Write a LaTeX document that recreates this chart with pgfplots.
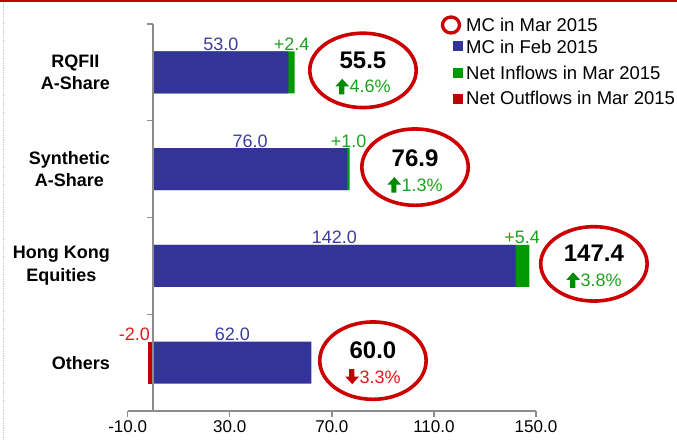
\documentclass[border=0pt]{standalone}
\usepackage{pgfplots}
\pgfplotsset{compat=1.18}
\usepackage{fontspec}
\setmainfont{Liberation Sans}
\definecolor{barblue}{HTML}{333399}
\definecolor{bargreen}{HTML}{009900}
\definecolor{barred}{HTML}{C00000}
\definecolor{txtblue}{HTML}{3C3C9E}
\definecolor{txtgreen}{HTML}{1CA31C}
\definecolor{arrgreen}{HTML}{008A00}
\definecolor{txtred}{HTML}{E01818}
\definecolor{ringred}{HTML}{CC0000}
\definecolor{axgray}{HTML}{8C8C8C}
\newcommand{\uparr}[1]{\tikz[baseline=0pt]\fill[#1] (4.4pt,-1.5pt) -- (9.6pt,-1.5pt) -- (9.6pt,6.5pt) -- (14.3pt,6.5pt) -- (7.4pt,14pt) -- (0.5pt,6.5pt) -- (4.4pt,6.5pt) -- cycle;}
\newcommand{\downarr}[1]{\tikz[baseline=0pt]\fill[#1] (4.4pt,14pt) -- (9.6pt,14pt) -- (9.6pt,6.5pt) -- (14.3pt,6.5pt) -- (7.4pt,-1pt) -- (0.5pt,6.5pt) -- (4.4pt,6.5pt) -- cycle;}
\newcommand{\lblfont}{\fontsize{18}{21}\selectfont}
\newcommand{\bigfont}{\fontsize{24}{28}\selectfont\bfseries}
\begin{document}
\begin{tikzpicture}
\useasboundingbox (0,0) rectangle (677pt,440pt);
\draw[barred, line width=2pt] (0,439pt) -- (677pt,439pt);
\draw[gray!45, densely dotted, line width=0.8pt] (3pt,0) -- (3pt,438pt);
\begin{axis}[
  at={(127.7pt,29pt)}, anchor=south west,
  width=408.3pt, height=387pt, scale only axis,
  xmin=-10, xmax=150, ymin=-0.5, ymax=3.5,
  clip=false,
  axis x line*=bottom, axis y line*=left,
  x axis line style={-, draw=axgray, line width=1.5pt},
  y axis line style={draw=none},
  xtick={-10,30,70,110,150},
  xticklabels={-10.0,30.0,70.0,110.0,150.0},
  xticklabel style={font=\fontsize{17}{20}\selectfont},
  x tick style={draw=axgray, line width=1.3pt},
  major tick length=6pt,
  tick align=outside,
  ytick={0,1,2,3},
  yticklabels={Others,{Hong Kong\\Equities},{Synthetic\\A-Share},{RQFII\\A-Share}},
  yticklabel style={font=\fontsize{18}{22.5}\selectfont\bfseries, align=center, anchor=east, inner sep=0pt, xshift=-11.7pt},
  y tick style={draw=none},
  xbar, bar width=42pt, bar shift=0pt,
]
% green segments drawn as totals (MC Mar = Feb + inflow), blue drawn on top
\addplot[xbar, bar shift=0pt, fill=bargreen, draw=none] coordinates {(55.4,3) (77.0,2) (147.4,1)};
\addplot[xbar, bar shift=0pt, fill=barblue, draw=none] coordinates {(53.0,3) (76.0,2) (142.0,1) (62.0,0)};
\addplot[xbar, bar shift=0pt, fill=barred, draw=none] coordinates {(-2.0,0)};

\draw[axgray, line width=1.5pt] (axis cs:0,-0.5) -- (axis cs:0,3.5);
\draw[axgray, line width=1.3pt] (axis cs:0,3.5) -- ++(-6pt,0pt);
\draw[axgray, line width=1.3pt] (axis cs:0,2.5) -- ++(-6pt,0pt);
\draw[axgray, line width=1.3pt] (axis cs:0,1.5) -- ++(-6pt,0pt);
\draw[axgray, line width=1.3pt] (axis cs:0,0.5) -- ++(-6pt,0pt);

% value labels
\node[text=txtblue, font=\lblfont, anchor=base, yshift=22pt] at (axis cs:26.5,3) {53.0};
\node[text=txtblue, font=\lblfont, anchor=base, yshift=22pt] at (axis cs:38,2) {76.0};
\node[text=txtblue, font=\lblfont, anchor=base, yshift=22pt] at (axis cs:71,1) {142.0};
\node[text=txtblue, font=\lblfont, anchor=base, yshift=22pt] at (axis cs:31,0) {62.0};
\node[text=txtgreen, font=\lblfont, anchor=base, yshift=22pt] at (axis cs:54.2,3) {+2.4};
\node[text=txtgreen, font=\lblfont, anchor=base, yshift=22pt] at (axis cs:76.6,2) {+1.0};
\node[text=txtgreen, font=\lblfont, anchor=base, yshift=22pt] at (axis cs:144.6,1) {+5.4};
\node[text=txtred, font=\lblfont, anchor=base east, inner xsep=0pt, yshift=22pt] at (axis cs:-1.2,0) {-2.0};

% ellipses with MC in Mar 2015
\draw[ringred, line width=3.6pt] (axis cs:82.2,3) ++(0pt,2pt) ellipse [x radius=53.2pt, y radius=37.2pt];
\draw[ringred, line width=3.6pt] (axis cs:102.6,2) ++(0pt,2pt) ellipse [x radius=53.2pt, y radius=38.2pt];
\draw[ringred, line width=3.6pt] (axis cs:172.7,1) ++(0pt,2pt) ellipse [x radius=53.2pt, y radius=37.2pt];
\draw[ringred, line width=3.6pt] (axis cs:86.1,0) ++(0pt,2pt) ellipse [x radius=53.2pt, y radius=38.7pt];

\node[font=\bigfont, anchor=base, yshift=4pt] at (axis cs:82.2,3) {55.5};
\node[font=\bigfont, anchor=base, yshift=3pt] at (axis cs:102.6,2) {76.9};
\node[font=\bigfont, anchor=base, yshift=4pt] at (axis cs:172.7,1) {147.4};
\node[font=\bigfont, anchor=base, yshift=4pt] at (axis cs:86.1,0) {60.0};

\node[font=\lblfont, text=txtgreen, anchor=base, yshift=-20.5pt] at (axis cs:82.2,3) {\uparr{arrgreen}\hspace{0.5pt}4.6\%};
\node[font=\lblfont, text=txtgreen, anchor=base, yshift=-22pt] at (axis cs:102.6,2) {\uparr{arrgreen}\hspace{0.5pt}1.3\%};
\node[font=\lblfont, text=txtgreen, anchor=base, yshift=-20.5pt] at (axis cs:172.7,1) {\uparr{arrgreen}\hspace{0.5pt}3.8\%};
\node[font=\lblfont, text=txtred, anchor=base, yshift=-20.5pt] at (axis cs:86.1,0) {\downarr{barred}\hspace{0.5pt}3.3\%};
\end{axis}

% legend
\draw[ringred, line width=3.3pt] (451pt,415pt) ellipse [x radius=8.5pt, y radius=8pt];
\node[font=\fontsize{18.5}{22}\selectfont, anchor=base west, inner sep=0pt] at (466pt,408pt) {MC in Mar 2015};
\fill[barblue] (453pt,389pt) rectangle (463pt,399pt);
\node[font=\fontsize{18.5}{22}\selectfont, anchor=base west, inner sep=0pt] at (466pt,386pt) {MC in Feb 2015};
\fill[bargreen] (453pt,362pt) rectangle (463pt,372pt);
\node[font=\fontsize{18.5}{22}\selectfont, anchor=base west, inner sep=0pt] at (466pt,360.5pt) {Net Inflows in Mar 2015};
\fill[barred] (453pt,336pt) rectangle (463pt,346pt);
\node[font=\fontsize{18.5}{22}\selectfont, anchor=base west, inner sep=0pt] at (466pt,335pt) {Net Outflows in Mar 2015};
\end{tikzpicture}
\end{document}
